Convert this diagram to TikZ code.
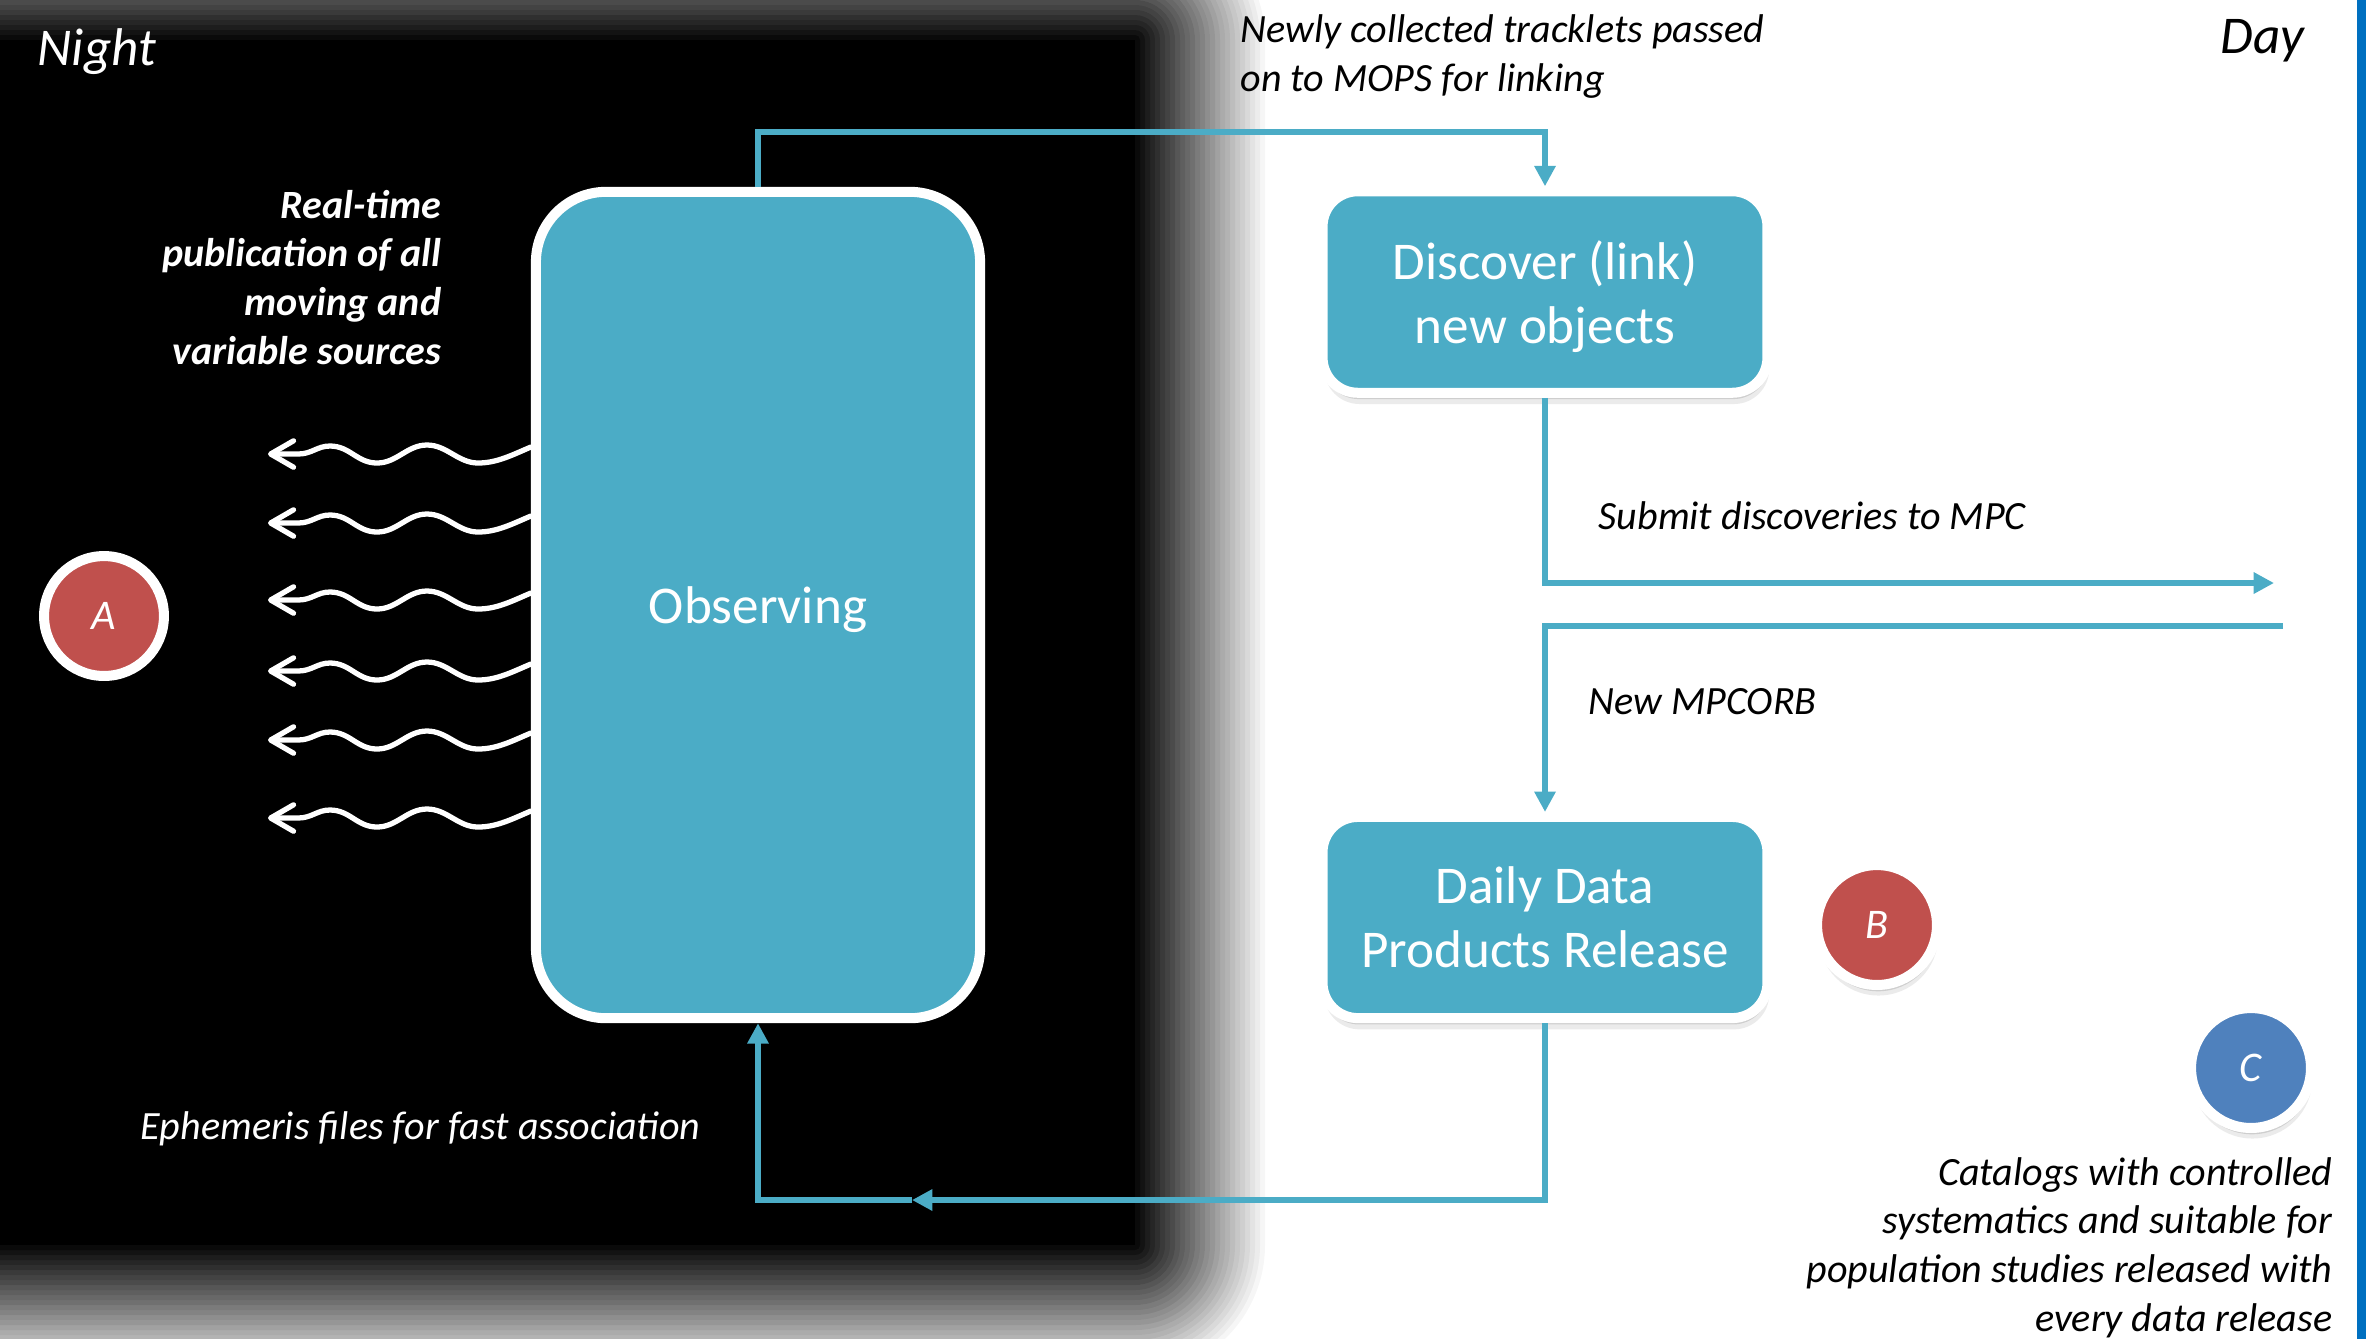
\documentclass[tikz,border=0pt]{standalone}
\usepackage{fontspec}
\setmainfont{Carlito}
\usetikzlibrary{arrows.meta,shadows}
\definecolor{aqua}{HTML}{4BACC6}
\definecolor{redc}{HTML}{C0504D}
\definecolor{bluec}{HTML}{4F81BD}
\definecolor{stripc}{HTML}{0070C0}
\newcommand\myBig{\fontsize{15.1pt}{18.2pt}\selectfont}
\newcommand\mySmall{\fontsize{11.4pt}{13.8pt}\selectfont}
\newcommand\myLetter{\fontsize{12pt}{14pt}\selectfont}
\tikzset{
  box/.style={draw=white, line width=2.85pt, fill=aqua, text=white, font=\myBig,
    align=center, inner sep=0pt,
    drop shadow={shadow xshift=0.3pt, shadow yshift=-1.8pt, opacity=0.12, fill=black},
    drop shadow={shadow xshift=0.5pt, shadow yshift=-3.2pt, opacity=0.08, fill=black}},
  badge/.style={circle, draw=white, line width=2.85pt, minimum size=34.1pt, inner sep=0pt,
    text=white, font=\myLetter\itshape,
    drop shadow={shadow xshift=0.3pt, shadow yshift=-1.8pt, opacity=0.12, fill=black},
    drop shadow={shadow xshift=0.4pt, shadow yshift=-3pt, opacity=0.08, fill=black}},
  conn/.style={draw=aqua, line width=1.6pt, -{Triangle[length=5.8pt,width=5.8pt]}},
  wave/.style={draw=white, line width=1.5pt, line cap=round, line join=round,
    -{Straight Barb[length=6.5pt,width=7.5pt,round]}},
  lbl/.style={inner sep=0pt, font=\mySmall\itshape, text=black}
}
\begin{document}
\begin{tikzpicture}[x=0.01cm,y=-0.01cm]
\useasboundingbox (0,0) rectangle (2366,1338);
% night backdrop with soft edge
\fill[black] (-200,40) rectangle (1135,1245);
\foreach \k in {1,...,26}{
  \pgfmathsetmacro\dd{5*\k}
  \pgfmathsetmacro\op{1/(\k+1)}
  \pgfmathsetmacro\rr{0.2845*\dd}
  \fill[black, opacity=\op, rounded corners=\rr pt] (-200,{40-\dd}) rectangle ({1135+\dd},{1245+\dd});
}
% right strip
\fill[stripc] (2357,-10) rectangle (2380,1350);

% main boxes
\node[box, minimum width=126.3pt, minimum height=235pt, rounded corners=20pt, text depth=0pt] (obs) at (758,605) {Observing};
\node[box, minimum width=126.5pt, minimum height=57.3pt, rounded corners=10pt, text depth=0pt] (disc) at (1545,292) {Discover (link)\\new objects};
\node[box, minimum width=126.5pt, minimum height=57.2pt, rounded corners=10pt] (daily) at (1545,917.5) {Daily Data\\Products Release};

% badges
\node[badge, fill=redc] (A) at (104,616) {A};
\node[badge, fill=redc] (B) at (1877,925) {B};
\node[badge, fill=bluec] (C) at (2251,1068) {C};

% wavy publication arrows
\foreach \y in {454,523,600,671,740,818}{
  \draw[wave] (obs.west |- 0,{\y-7}) .. controls (512,{\y+1}) and (497,{\y+9}) .. (478,{\y+9})
     .. controls (458,{\y+9}) and (447,{\y-9}) .. (427,{\y-9})
     .. controls (407,{\y-9}) and (397,{\y+9}) .. (377,{\y+9})
     .. controls (357,{\y+9}) and (350,{\y-8}) .. (330,{\y-8})
     .. controls (317,{\y-8}) and (312,\y) .. (298,\y) -- (268,\y);
}

% connectors
\coordinate (mpcout) at (2274,583);
\coordinate (mpcin) at (2283,626);
\coordinate (back) at (912,1200);
\draw[conn] (obs.north) -- ++(0,-55) -| (disc.north);
\draw[conn] (disc.south) |- (mpcout);
\draw[conn] (mpcin) -| (daily.north);
\draw[conn] (daily.south) |- (back);
\draw[conn] (back) -| (obs.south);

% labels (base anchor = baseline of the last line)
\node[lbl, anchor=base west, text=white, font=\myBig\itshape] (night) at (37,65) {Night};
\node[lbl, anchor=base east, font=\myBig\itshape] (day) at (2305,53) {Day};
\node[lbl, anchor=base west, align=left] (newly) at (1240,91) {Newly collected tracklets passed\\on to MOPS for linking};
\node[lbl, anchor=base east, align=right, text=white, font=\mySmall\bfseries\itshape] (rt) at (442,364) {Real-time\\publication of all\\moving and\\variable sources};
\node[lbl, anchor=base west] (submit) at (1598,529) {Submit discoveries to MPC};
\node[lbl, anchor=base west] (newmpc) at (1588,714) {New MPCORB};
\node[lbl, anchor=base west, text=white] (ephem) at (140,1139) {Ephemeris files for fast association};
\node[lbl, anchor=base east, align=right] (cat) at (2333,1331) {Catalogs with controlled\\systematics and suitable for\\population studies released with\\every data release};
\end{tikzpicture}
\end{document}
